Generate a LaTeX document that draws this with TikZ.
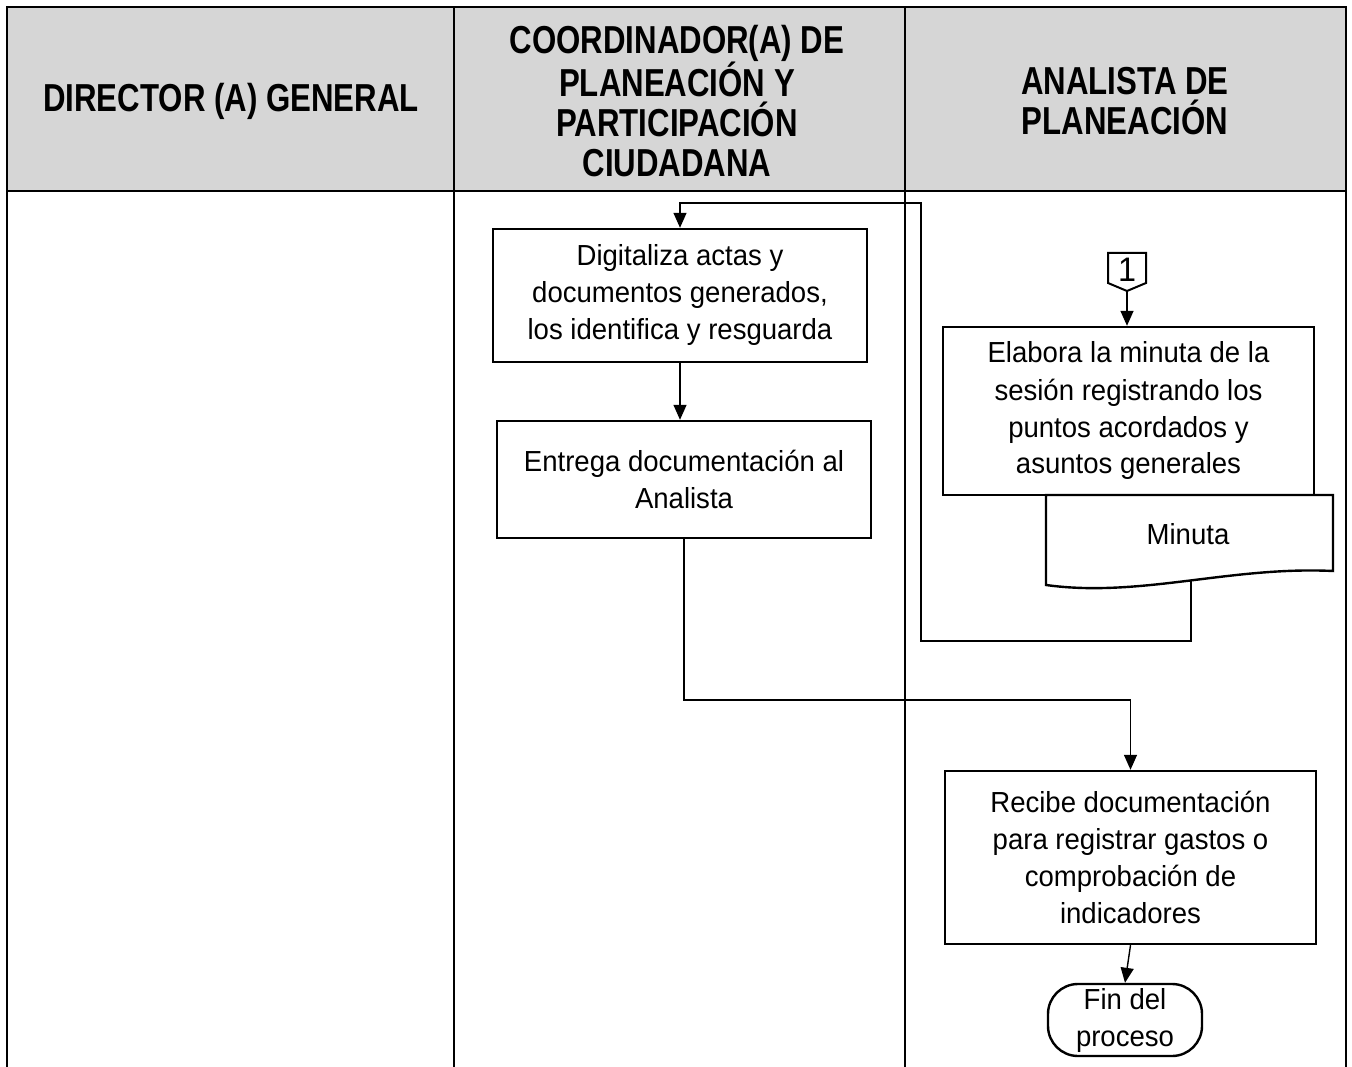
\documentclass[tikz,border=0pt]{standalone}
\usepackage{fontspec}
\setmainfont{Liberation Sans}[FakeStretch=0.95]
\newfontfamily\hdrfont{Liberation Sans}[FakeStretch=0.8]
\usetikzlibrary{arrows.meta}
\begin{document}
\begin{tikzpicture}[x=1pt,y=-1pt,
  lane/.style={line width=2.6pt},
  box/.style={draw,line width=2.4pt,inner sep=0pt,align=center,font=\fontsize{29}{37}\selectfont},
  txt/.style={inner sep=0pt,font=\fontsize{29}{37}\selectfont},
  arr/.style={line width=1.4pt,-{Triangle[length=15pt,width=13pt]}},
  hdr/.style={align=center,font=\hdrfont\bfseries\fontsize{39}{40}\selectfont}]
\useasboundingbox (0,0) rectangle (1352,1067);
\fill[white] (0,0) rectangle (1352,1067);
% lanes
\fill[black!16] (7,7) rectangle (1346,191);
\draw[lane] (7,1067) -- (7,7) -- (1346,7) -- (1346,1067);
\draw[lane] (7,191) -- (1346,191);
\draw[lane] (454,7) -- (454,1067);
\draw[lane] (905,7) -- (905,1067);
\node[hdr] (h1) at (231,101) {DIRECTOR (A) GENERAL};
\node[hdr] (h2) at (677,101) {COORDINADOR(A) DE\\PLANEACIÓN Y\\PARTICIPACIÓN\\CIUDADANA};
\node[hdr] (h3) at (1125,101) {ANALISTA DE\\PLANEACIÓN};
% boxes
\node[box,minimum width=374pt,minimum height=133pt] (dig) at (680,295.5) {Digitaliza actas y\\documentos generados,\\los identifica y resguarda};
\node[box,minimum width=374pt,minimum height=117pt] (ent) at (684,479.5) {Entrega documentación al\\Analista};
\node[box,minimum width=371pt,minimum height=168pt] (ela) at (1128.5,411) {Elabora la minuta de la\\sesión registrando los\\puntos acordados y\\asuntos generales};
\node[box,minimum width=371pt,minimum height=173pt] (rec) at (1130.5,857.5) {Recibe documentación\\para registrar gastos o\\comprobación de\\indicadores};
\node[box,rounded corners=30pt,minimum width=154pt,minimum height=72pt] (fin) at (1125,1020) {Fin del\\proceso};
% document
\draw[line width=2.4pt] (1046,495) -- (1333,495) -- (1333,571) .. controls (1230,566) and (1140,598) .. (1046,585) -- cycle;
\node[txt] (min) at (1188,534) {Minuta};
% off-page connector
\draw[line width=2pt] (1108,253) -- (1146,253) -- (1146,283) -- (1127,291) -- (1108,283) -- cycle;
\node[inner sep=0pt,font=\fontsize{34}{34}\selectfont] (c1) at (1127,270) {1};
\coordinate (c1b) at (1127,291);
% connectors
\draw[arr] (c1b) -- (c1b |- ela.north);
\draw[arr] (dig.south) -- (dig.south |- ent.north);
\coordinate (j1) at (800,700);
\draw[arr] (ent.south) |- (j1) -| (rec.north);
\draw[arr] (rec.south) -- (fin.north);
\coordinate (m1) at (1191,580);
\coordinate (lp1) at (921,641);
\coordinate (lp2) at (921,203);
\draw[arr] (m1) |- (lp1) -- (lp2) -| (dig.north);
\end{tikzpicture}
\end{document}
